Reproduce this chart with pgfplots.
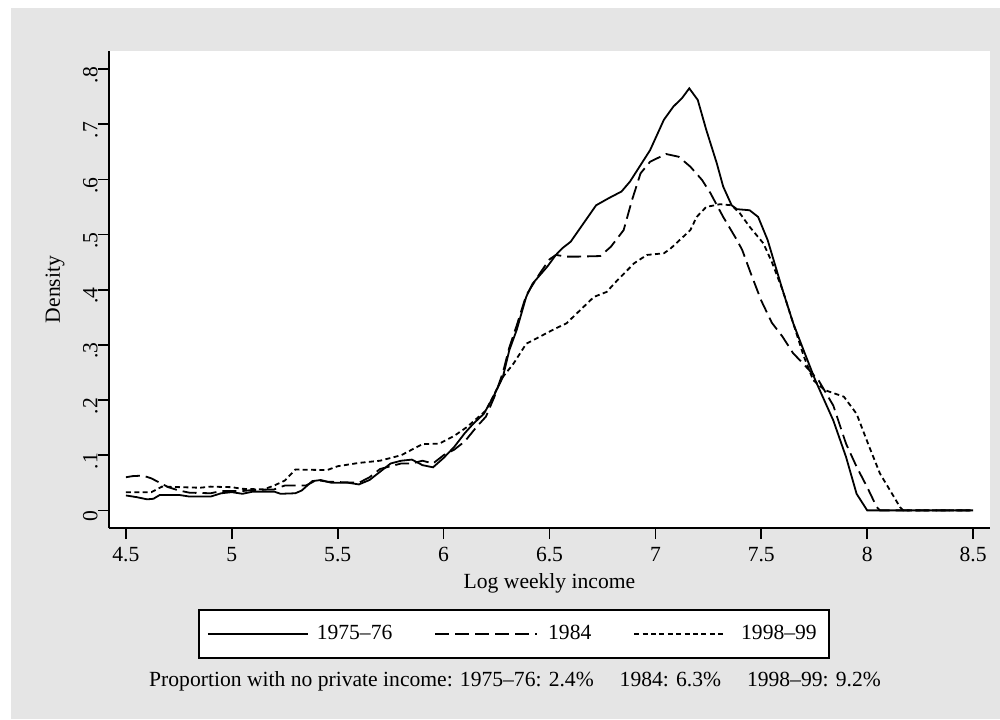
\documentclass[border=0pt]{standalone}
\usepackage{pgfplots}
\pgfplotsset{compat=1.18}
\usepackage{pgfplotstable}
\usepackage{fontspec}
\setmainfont{Liberation Serif}
\definecolor{bggray}{RGB}{229,229,229}
\pgfplotsset{
  limgA/.style={legend image code/.code={\draw[##1] (0pt,0pt) -- (50pt,0pt); \path (52pt,0pt);}},
  limgB/.style={legend image code/.code={\draw[##1] (0pt,0pt) -- (51pt,0pt); \path (54pt,0pt);}},
  limgC/.style={legend image code/.code={\draw[##1] (0pt,0pt) -- (45.5pt,0pt); \path (51pt,0pt);}},
}

\pgfplotstableread{
x y
4.50 0.027
4.55 0.024
4.60 0.020
4.63 0.021
4.66 0.028
4.75 0.028
4.80 0.025
4.90 0.025
4.95 0.031
5.00 0.033
5.05 0.030
5.10 0.034
5.20 0.034
5.23 0.030
5.30 0.031
5.33 0.036
5.38 0.053
5.42 0.055
5.47 0.050
5.55 0.050
5.60 0.047
5.65 0.055
5.70 0.070
5.75 0.085
5.80 0.090
5.85 0.092
5.90 0.082
5.95 0.078
6.00 0.095
6.05 0.115
6.10 0.140
6.14 0.157
6.19 0.175
6.235 0.206
6.28 0.242
6.31 0.290
6.345 0.327
6.39 0.387
6.42 0.411
6.49 0.442
6.53 0.463
6.56 0.475
6.60 0.487
6.66 0.520
6.72 0.553
6.78 0.566
6.84 0.578
6.88 0.596
6.93 0.626
6.975 0.653
7.04 0.708
7.085 0.732
7.125 0.747
7.16 0.765
7.20 0.744
7.24 0.690
7.29 0.629
7.32 0.587
7.36 0.553
7.385 0.546
7.445 0.544
7.485 0.532
7.53 0.490
7.60 0.400
7.65 0.340
7.70 0.290
7.755 0.236
7.84 0.163
7.90 0.097
7.95 0.030
8.00 0.000
8.50 0.000
}\tabA

\pgfplotstableread{
x y
4.50 0.060
4.53 0.062
4.58 0.063
4.62 0.058
4.70 0.042
4.75 0.036
4.80 0.032
4.90 0.031
4.95 0.035
5.05 0.035
5.10 0.037
5.20 0.038
5.25 0.045
5.35 0.045
5.40 0.055
5.45 0.052
5.60 0.050
5.65 0.060
5.70 0.075
5.80 0.085
5.85 0.085
5.90 0.090
5.95 0.085
6.00 0.100
6.05 0.110
6.10 0.125
6.155 0.151
6.20 0.170
6.24 0.206
6.28 0.250
6.31 0.295
6.345 0.335
6.39 0.390
6.455 0.430
6.50 0.455
6.53 0.463
6.58 0.460
6.64 0.460
6.74 0.461
6.79 0.478
6.85 0.508
6.89 0.563
6.93 0.611
6.975 0.632
7.05 0.646
7.11 0.641
7.165 0.623
7.22 0.599
7.26 0.575
7.32 0.532
7.385 0.490
7.41 0.472
7.45 0.430
7.50 0.380
7.55 0.340
7.60 0.315
7.65 0.285
7.70 0.265
7.77 0.236
7.84 0.190
7.90 0.121
7.95 0.079
8.00 0.042
8.045 0.006
8.06 0.000
8.50 0.000
}\tabB

\pgfplotstableread{
x y
4.50 0.033
4.62 0.033
4.67 0.043
4.85 0.041
4.90 0.043
5.00 0.042
5.05 0.039
5.15 0.038
5.20 0.045
5.25 0.054
5.30 0.074
5.45 0.073
5.50 0.080
5.60 0.086
5.70 0.090
5.75 0.095
5.80 0.100
5.86 0.112
5.90 0.120
5.98 0.121
6.05 0.135
6.11 0.151
6.20 0.181
6.28 0.242
6.33 0.266
6.39 0.302
6.455 0.315
6.53 0.330
6.58 0.339
6.645 0.363
6.71 0.387
6.77 0.396
6.82 0.417
6.90 0.448
6.96 0.463
7.04 0.466
7.07 0.474
7.165 0.508
7.195 0.532
7.24 0.550
7.305 0.555
7.36 0.553
7.40 0.538
7.445 0.514
7.51 0.484
7.55 0.450
7.60 0.400
7.65 0.340
7.70 0.280
7.745 0.236
7.80 0.218
7.89 0.206
7.95 0.175
8.01 0.115
8.06 0.067
8.155 0.006
8.17 0.000
8.50 0.000
}\tabC

\begin{document}
\fontsize{10.8}{13}\selectfont
\begin{tikzpicture}
\useasboundingbox (-54.5pt,-95.5pt) rectangle (445.5pt,264pt);
\fill[bggray] (-49pt,-95.5pt) rectangle (445.5pt,260pt);
\begin{axis}[
  at={(0,0)}, anchor=south west,
  scale only axis,
  width=440.5pt, height=238.5pt,
  xmin=4.42, xmax=8.58, ymin=-0.032, ymax=0.8327,
  axis background/.style={fill=white},
  axis x line*=bottom, axis y line*=left,
  axis line style={line width=1pt},
  tick align=outside,
  major tick length=5.5pt,
  every tick/.style={black, line width=0.8pt},
  xtick={4.5,5,5.5,6,6.5,7,7.5,8,8.5},
  xticklabels={4.5,5,5.5,6,6.5,7,7.5,8,8.5},
  ytick={0,0.1,0.2,0.3,0.4,0.5,0.6,0.7,0.8},
  yticklabels={0,.1,.2,.3,.4,.5,.6,.7,.8},
  /pgf/number format/assume math mode=true,
  ticklabel style={font=\fontsize{10.8}{13}\selectfont},
  xticklabel style={anchor=north, inner sep=0pt, yshift=-4pt},
  yticklabel style={rotate=90, anchor=south, inner sep=0pt, xshift=-3pt},
  xlabel={Log weekly income},
  ylabel={Density},
  label style={font=\fontsize{10.8}{13}\selectfont},
  xlabel style={at={(axis description cs:0.5,0)}, anchor=center, yshift=-27.5pt, inner sep=0pt},
  ylabel style={at={(axis description cs:0,0.5)}, anchor=center, rotate=0, yshift=27pt, inner sep=0pt},
  legend columns=3,
  legend cell align=left,
  legend style={at={(axis description cs:0.101,-0.1698)}, anchor=north west,
    draw=black, line width=1pt, fill=white, inner xsep=4pt, inner ysep=5.6pt,
    font=\fontsize{10.8}{13}\selectfont,
    /tikz/every even column/.append style={column sep=19pt}},
]
\addplot[black, line width=0.9pt, limgA] table[x=x,y=y] {\tabA};
\addlegendentry{1975–76}
\addplot[black, line width=0.9pt, dash pattern=on 7pt off 3pt, limgB] table[x=x,y=y] {\tabB};
\addlegendentry{1984\hspace{5.5pt}}
\addplot[black, line width=0.9pt, dash pattern=on 2.5pt off 1.7pt, limgC] table[x=x,y=y] {\tabC};
\addlegendentry{1998–99}
\end{axis}
\node[anchor=center, inner sep=0pt] at (203pt,-76.5pt) {Proportion with no private income: 1975–76: 2.4\%\hspace{1.2em}1984: 6.3\%\hspace{1.2em}1998–99: 9.2\%};
\end{tikzpicture}
\end{document}
